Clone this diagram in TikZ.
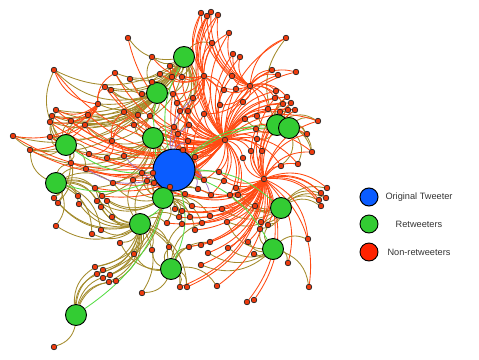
\documentclass[tikz,border=0pt]{standalone}
\usepackage{fontspec}
\setmainfont{Liberation Sans}
\usetikzlibrary{backgrounds}
\definecolor{twblue}{HTML}{0A5CFF}
\definecolor{twgreen}{HTML}{33CC33}
\definecolor{twred}{HTML}{FF2200}
\definecolor{nodered}{HTML}{EE3A0C}
\definecolor{edgeorange}{HTML}{FF4A12}
\definecolor{edgeolive}{HTML}{A38B2C}
\definecolor{edgegreen}{HTML}{55DD44}
\definecolor{edgepurple}{HTML}{9466C0}
\definecolor{legtextcol}{HTML}{333333}
\tikzset{
  font=\fontsize{9.2}{11}\selectfont,
  orig/.style={circle,draw=black,line width=1pt,fill=twblue,minimum size=42pt,inner sep=0pt},
  rt/.style={circle,draw=black,line width=0.9pt,fill=twgreen,minimum size=21pt,inner sep=0pt},
  nonrt/.style={circle,draw=black!85,line width=0.7pt,fill=nodered,minimum size=5.6pt,inner sep=0pt},
  redge/.style={draw=edgeorange,line width=0.85pt},
  oedge/.style={draw=edgeolive,line width=0.85pt},
  gedge/.style={draw=edgegreen,line width=0.85pt},
  pedge/.style={draw=edgepurple,line width=0.7pt},
  legtext/.style={text=legtextcol,inner sep=1pt},
}
\begin{document}
\begin{tikzpicture}[x=1pt,y=-1pt]
  \useasboundingbox (0,0) rectangle (479,359);

  % original tweeter and retweeters
  \node[orig] (o) at (174,170) {};
  \foreach \x/\y [count=\i] in {184/57,157/93,153/138,66/145,56/183,163/198,140/224,
      277/125,289/128,281/208,273/249,171/269,76/315}
    \node[rt] (g\i) at (\x,\y) {};

  % non-retweeters
  \foreach \x/\y [count=\i] in {54/70,115/73,105/87,111/90,98/104,56/110,52/116,88/115,
      201/13,207/16,211/12,218/15,229/33,128/38,212/43,233/54,152/57,170/66,160/74,172/77,
      182/77,204/76,232/76,130/79,152/82,224/90,236/89,142/94,173/94,193/98,177/103,220/105,
      124/112,138/115,150/116,180/111,188/111,204/114,240/57,286/38,272/70,278/75,296/72,
      250/86,276/91,275/98,287/97,283/104,291/103,243/102,268/109,280/112,288/110,295/110,
      257/116,245/119,318/121,50/122,71/121,85/125,13/136,50/137,30/150,112/141,89/154,
      107/158,71/163,86/169,113/183,95/188,102/196,54/198,78/196,58/203,79/204,97/201,
      107/201,101/207,112/217,56/226,101/230,92/234,134/125,174/127,189/125,178/134,188/141,
      225/140,183/150,195/157,124/156,219/172,142/173,153/173,133/180,147/181,154/183,
      204/180,224/181,170/187,236/188,198/189,185/194,211/195,230/195,238/195,192/206,
      175/209,182/211,222/209,179/217,190/217,210/216,167/223,182/224,202/223,227/222,
      195/230,256/129,307/134,257/139,251/151,262/151,312/152,243/158,281/166,298/164,
      264/179,327/188,321/193,326/198,319/200,321/206,255/206,261/222,268/225,260/229,
      308/239,95/267,103/270,97/274,110/275,103/278,109/282,116/281,54/347,120/243,134/254,
      152/250,169/247,189/247,201/245,210/242,228/248,208/253,201/265,142/293,180/287,
      187/287,217/286,248/242,254/254,288/263,309/287,254/300,247/302}
    \node[nonrt] (n\i) at (\x,\y) {};

  \begin{scope}[on background layer]
    % retweeter links
    \foreach \j in {14,15,17,18,19,20,21,24,25,28,1,2,3,4,33,5,6,7,8,58,59,60,29,30,31,36,37,83,84,86}
      \draw[oedge] (g1) to[bend left=30] (n\j);
    \foreach \j in {24,25,28,33,34,35,17,19,6,7,8,58,59,60,64,83,5,1,2,3,4,61,62,63,29,31}
      \draw[oedge] (g2) to[bend left=30] (n\j);
    \foreach \j in {83,84,86,89,91,93,94,64,66,65,67,68,60,62,63,34,35,95,96,97,100,69,70,71}
      \draw[oedge] (g3) to[bend left=30] (n\j);
    \foreach \j in {61,62,63,58,59,60,67,65,68,72,74,6,7,8,1}
      \draw[oedge] (g4) to[bend left=30] (n\j);
    \foreach \j in {72,73,74,75,76,77,78,80,81,82,69,70,71,67,68,63}
      \draw[oedge] (g5) to[bend left=30] (n\j);
    \foreach \j in {95,96,97,100,103,107,108,109,111,112,114,115,118,93,94,69,71,76,77,139,141,143,
        84,86,89,90,92,98,99,102,104,113,116}
      \draw[oedge] (g6) to[bend left=30] (n\j);
    \foreach \j in {139,140,141,142,143,144,145,147,148,149,150,79,80,81,82,78,114,111,157,70,73,75,
        95,96,72,74,76,77,158,159}
      \draw[oedge] (g7) to[bend left=30] (n\j);
    \foreach \j in {119,121,57,120,124,40,47,48,52,53,55,56}
      \draw[oedge] (g8) to[bend left=30] (n\j);
    \foreach \j in {120,124,127,57,54,49,126}
      \draw[oedge] (g9) to[bend left=30] (n\j);
    \foreach \j in {134,135,136,137,129,130,131,132,133,110,117,106,105,101}
      \draw[oedge] (g10) to[bend left=30] (n\j);
    \foreach \j in {161,162,163,164,136,137,138,154,155,156,117}
      \draw[oedge] (g11) to[bend left=30] (n\j);
    \foreach \j in {157,158,159,160,148,149,150,151,152,153,147,115,116}
      \draw[oedge] (g12) to[bend left=30] (n\j);
    \foreach \j in {146,139,140,141,142,144,145}
      \draw[oedge] (g13) to[bend left=30] (n\j);

    % non-retweeter links, mostly through a few hubs
    \foreach \j in {9,10,11,12,13,15,16,23,26,27,32,38,39,40,41,42,43,45,46,47,48,49,50,51,
        52,53,54,55,56,57,119,120,121,122,123,124,125,126,127,92,98,99,101,30,36,37,29,21,
        20,18,85,87,90,2,3,4,64,60,63,61,24,14,58,62,1,104,105,106,6,7,8,59,33,34,35,83,84,
        86,89,93,94,95,65,66,67,68,69,70,71}
      \draw[redge] (n88) to[bend left=30] (n\j);
    \foreach \j in {129,130,131,132,133,57,124,127,126,120,134,135,136,137,138,161,163,164,
        165,166,105,106,101,117,110,99,92,54,49,53,47,46,52,123,122,125,119,121,154,160,113,116,
        151,152,153,155,156,158,159,102,103,107,108,109,111,112,114,115,118,100,97,96}
      \draw[redge] (n128) to[bend left=30] (n\j);
    \foreach \j in {40,41,42,43,45,13,16,39,23,27,26,22,9,10,11,12,47,48,15,32,38,50,55,46,51}
      \draw[redge] (n44) to[bend left=30] (n\j);
    \foreach \j in {9,10,11,12,13,15,18,20,21,29,30,31,36,37,38,26,32,17,19}
      \draw[redge] (n22) to[bend left=30] (n\j);
    \foreach \j in {84,85,86,87,89,90,36,37,38,30,31,29}
      \draw[redge] (n98) to[bend left=30] (n\j);
    \foreach \j in {1,6,7,8,58,59,61,62,63,2,3}
      \draw[redge] (n5) to[bend left=30] (n\j);
    \foreach \j in {60,65,66,91,33,34,83}
      \draw[redge] (n64) to[bend left=30] (n\j);

    % original tweeter links
    \foreach \j in {98,102,104,90,87,93,96,91,68,30,85}
      \draw[pedge] (o) to[bend left=25] (n\j);
    \foreach \j in {1,...,13}
      \draw[gedge] (o) to[bend left=20] (g\j);
  \end{scope}

  % legend
  \node[orig,minimum size=18pt] (legorig) at (369,197) {};
  \node[rt,minimum size=18pt] (legrt) at (369,224) {};
  \node[nonrt,draw=black,line width=0.9pt,fill=twred,minimum size=18pt] (legnon) at (369,252) {};
  \node[legtext] (legorigtxt) at (419,197) {Original Tweeter};
  \node[legtext] (legrttxt) at (419,224) {Retweeters};
  \node[legtext] (legnontxt) at (419,252) {Non-retweeters};
\end{tikzpicture}
\end{document}
